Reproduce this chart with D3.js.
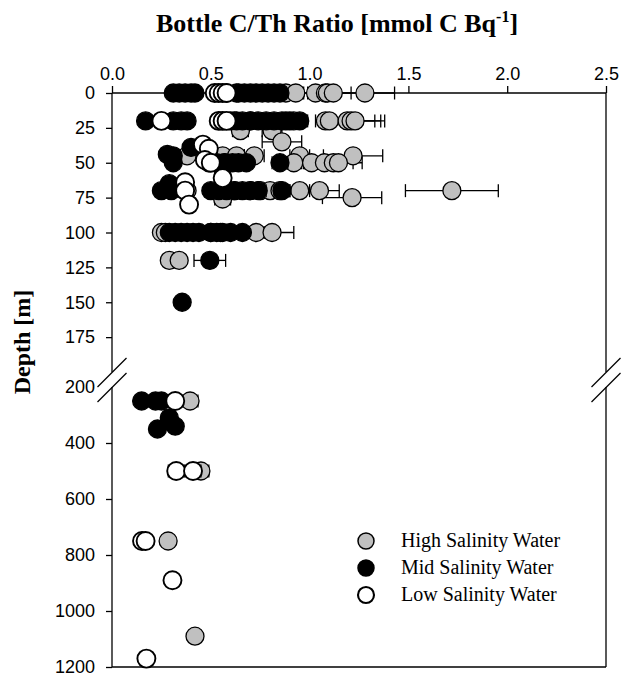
<!DOCTYPE html>
<html><head><meta charset="utf-8">
<script src="https://cdn.jsdelivr.net/npm/d3@7"></script>
<style>body{margin:0;background:#fff}</style>
</head><body>
<svg id="c" width="621" height="677"></svg>
<script>
// ---- data: [depth (m), C/Th ratio, error] ----
const highSalinity = [
 [0,0.58,0],[0,0.63,0.03],[0,0.88,0.03],[0,0.93,0.03],[0,1.03,0.04],[0,1.08,0.05],[0,1.09,0.12],[0,1.12,0.03],[0,1.28,0.15],
 [20,0.62,0.05],[20,0.70,0.03],[20,0.88,0.04],[20,0.92,0.03],[20,1.08,0.05],[20,1.10,0.03],[20,1.19,0.14],[20,1.21,0.15],[20,1.23,0.15],
 [27,0.65,0.04],[27,0.81,0.05],
 [35,0.86,0.1],
 [45,0.38,0],[45,0.56,0.03],[45,0.63,0.04],[45,0.72,0.05],[45,0.95,0.05],[45,1.22,0.15],
 [50,0.57,0.03],[50,0.92,0.05],[50,1.01,0.05],[50,1.075,0.1],[50,1.12,0.1],[50,1.146,0.12],
 [70,0.38,0.03],[70,0.62,0.04],[70,0.70,0.04],[70,0.75,0.03],[70,0.80,0.04],[70,0.85,0.04],[70,0.95,0.05],[70,1.05,0.1],[70,1.72,0.235],
 [76,0.56,0.04],[75,1.215,0.15],
 [100,0.25,0],[100,0.27,0.02],[100,0.50,0.02],[100,0.55,0.03],[100,0.73,0.04],[100,0.81,0.11],
 [120,0.29,0],[120,0.34,0.01],
 [250,0.395,0.04],[500,0.45,0.04],[750,0.284,0],[1090,0.42,0.03]
];
const midSalinity = [
 [0,0.31,0.02],[0,0.34,0.02],[0,0.37,0.02],[0,0.40,0.02],[0,0.42,0.02],[0,0.64,0.03],[0,0.67,0.03],[0,0.70,0.03],[0,0.73,0.03],[0,0.76,0.03],[0,0.79,0.03],[0,0.82,0.03],[0,0.85,0.03],
 [20,0.17,0.01],[20,0.31,0.02],[20,0.35,0.02],[20,0.38,0.02],[20,0.60,0.03],[20,0.63,0.03],[20,0.66,0.03],[20,0.70,0.03],[20,0.74,0.03],[20,0.78,0.04],[20,0.82,0.04],[20,0.86,0.04],[20,0.90,0.04],[20,0.95,0.04],
 [39,0.40,0.02],
 [44,0.28,0.02],[45,0.31,0.02],
 [50,0.31,0.02],[50,0.49,0.03],[50,0.53,0.03],[50,0.57,0.03],[50,0.61,0.03],[50,0.64,0.03],[50,0.68,0.03],[50,0.85,0.04],
 [65,0.29,0.02],
 [70,0.25,0.02],[70,0.30,0.02],[70,0.50,0.03],[70,0.54,0.03],[70,0.58,0.03],[70,0.62,0.03],[70,0.66,0.03],[70,0.70,0.04],[70,0.74,0.04],[70,0.86,0.04],
 [100,0.29,0.02],[100,0.32,0.02],[100,0.35,0.02],[100,0.38,0.02],[100,0.41,0.02],[100,0.44,0.02],[100,0.50,0.03],[100,0.53,0.03],[100,0.56,0.03],[100,0.60,0.03],[100,0.66,0.03],
 [120,0.495,0.08],
 [150,0.355,0.01],
 [250,0.15,0],[250,0.22,0],[250,0.25,0],[310,0.29,0],[340,0.32,0],[350,0.23,0]
];
const lowSalinity = [
 [0,0.52,0.03],[0,0.54,0.03],[0,0.56,0.03],[0,0.58,0.03],
 [20,0.25,0.02],[20,0.54,0.03],[20,0.56,0.03],[20,0.58,0.03],
 [37,0.46,0.02],[40,0.49,0.03],
 [48,0.47,0.03],[50,0.50,0.03],
 [61,0.56,0.04],
 [64,0.37,0.02],[70,0.37,0],
 [80,0.39,0.03],
 [250,0.32,0.03],
 [500,0.325,0.04],[500,0.41,0.04],
 [750,0.152,0.01],[750,0.17,0.02],
 [890,0.306,0.03],
 [1170,0.174,0.02]
];
const seriesNames = ["High Salinity Water","Mid Salinity Water","Low Salinity Water"];
const seriesFills = ["#c0c0c0","#000000","#ffffff"];
const seriesStroke = [1.3,1.3,1.9];
const xTicks = [0,0.5,1.0,1.5,2.0,2.5];
const yTicksUpper = [0,25,50,75,100,125,150,175];
const yTicksLower = [200,400,600,800,1000,1200];

// ---- layout ----
const svg = d3.select("#c");
const L = 112, R = 606;
const x = d3.scaleLinear().domain([0,2.5]).range([L,R]);
const yU = d3.scaleLinear().domain([0,200]).range([93,372]);
const yL = d3.scaleLinear().domain([200,1200]).range([387,667]);
const y = d => d <= 200 ? yU(d) : yL(d);

const tickFont = "'Liberation Sans', Arial, sans-serif";
const serif = "'Liberation Serif', 'Times New Roman', serif";

// top axis
const gx = svg.append("g").attr("transform",`translate(0,${yU(0)})`)
  .call(d3.axisTop(x).tickValues(xTicks).tickFormat(d3.format(".1f")).tickSize(7).tickPadding(6).tickSizeOuter(0));
gx.select(".domain").remove();
gx.selectAll("text").attr("font-family",tickFont).attr("font-size",18).attr("fill","#000");
gx.selectAll("line").attr("stroke","#000").attr("stroke-width",1.3);

// left axes
function leftAxis(scale, ticks){
  const g = svg.append("g").attr("transform",`translate(${L},0)`)
    .call(d3.axisLeft(scale).tickValues(ticks).tickFormat(d3.format("d")).tickSize(6).tickPadding(11).tickSizeOuter(0));
  g.select(".domain").remove();
  g.selectAll("text").attr("font-family",tickFont).attr("font-size",18).attr("fill","#000");
  g.selectAll("line").attr("stroke","#000").attr("stroke-width",1.3);
  g.selectAll(".tick").filter(d=>d===200).select("line").remove();
  return g;
}
leftAxis(yU, yTicksUpper);
leftAxis(yL, yTicksLower);

// frame
const frame = svg.append("g").attr("stroke","#000").attr("stroke-width",1.3).attr("fill","none");
frame.append("line").attr("x1",L).attr("x2",R).attr("y1",yU(0)).attr("y2",yU(0));
frame.append("line").attr("x1",L).attr("x2",R).attr("y1",yL(1200)).attr("y2",yL(1200));
[L,R].forEach(xx=>{
  frame.append("line").attr("x1",xx).attr("x2",xx).attr("y1",yU(0)).attr("y2",yU(200));
  frame.append("line").attr("x1",xx).attr("x2",xx).attr("y1",yL(200)).attr("y2",yL(1200));
  [yU(200)+0.5, yL(200)+0.5].forEach(yc=>{
    frame.append("line").attr("x1",xx-14.5).attr("y1",yc+14.5).attr("x2",xx+14.5).attr("y2",yc-14.5);
  });
});

// data
const plot = svg.append("g");
[highSalinity, midSalinity, lowSalinity].forEach((data,i)=>{
  const g = plot.append("g");
  data.filter(d=>d[2]>0).forEach(d=>{
    const yy = y(d[0]), x1 = x(d[1]-d[2]), x2 = x(d[1]+d[2]);
    g.append("line").attr("x1",x1).attr("x2",x2).attr("y1",yy).attr("y2",yy).attr("stroke","#000").attr("stroke-width",1.3);
    [x1,x2].forEach(xe=>g.append("line").attr("x1",xe).attr("x2",xe).attr("y1",yy-6.5).attr("y2",yy+6.5).attr("stroke","#000").attr("stroke-width",1.3));
  });
  g.selectAll("circle").data(data).join("circle")
    .attr("cx",d=>x(d[1])).attr("cy",d=>y(d[0])).attr("r",9)
    .attr("fill",seriesFills[i]).attr("stroke","#000").attr("stroke-width",seriesStroke[i]);
});

// legend
const lg = svg.append("g");
seriesNames.forEach((n,i)=>{
  const yy = 541 + i*27;
  lg.append("circle").attr("cx",366).attr("cy",yy).attr("r",8).attr("fill",seriesFills[i]).attr("stroke","#000").attr("stroke-width",seriesStroke[i]+0.2);
  lg.append("text").attr("x",401).attr("y",yy+6).attr("font-family",serif).attr("font-size",20).text(n);
});

// titles
const t = svg.append("text").attr("x",337).attr("y",32).attr("text-anchor","middle")
  .attr("font-family",serif).attr("font-weight","bold").attr("font-size",26);
t.append("tspan").text("Bottle C/Th Ratio [mmol C Bq");
t.append("tspan").attr("font-size",16).attr("dy",-10).text("-1");
t.append("tspan").attr("dy",10).text("]");

svg.append("text").attr("transform","translate(30,342) rotate(-90)").attr("text-anchor","middle")
  .attr("font-family",serif).attr("font-weight","bold").attr("font-size",24).text("Depth [m]");
</script>
</body></html>
